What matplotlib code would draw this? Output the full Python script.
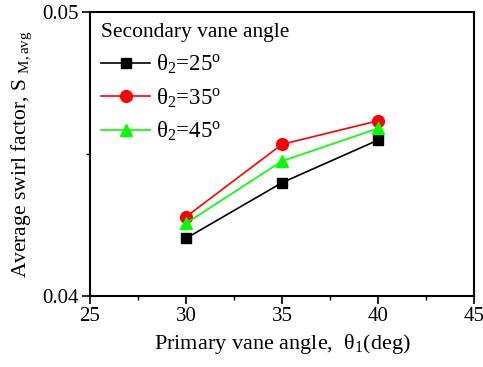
import matplotlib
matplotlib.use("Agg")
import matplotlib.pyplot as plt
from matplotlib.ticker import MultipleLocator

plt.rcParams['font.family'] = ['Liberation Serif', 'DejaVu Serif']
plt.rcParams['mathtext.fontset'] = 'custom'
plt.rcParams['mathtext.rm'] = 'Liberation Serif'
plt.rcParams['mathtext.it'] = 'Liberation Serif:italic'

primary_angle = [30, 35, 40]
swirl_25 = [0.04203, 0.04399, 0.04549]
swirl_35 = [0.04279, 0.04534, 0.04617]
swirl_45 = [0.04256, 0.04475, 0.04590]
series_labels = ['θ$_2$=25$^{\\rm o}$', 'θ$_2$=35$^{\\rm o}$', 'θ$_2$=45$^{\\rm o}$']

fig = plt.figure(figsize=(4.83, 3.67), dpi=100)
ax = fig.add_axes([90 / 483, 71 / 367, 384 / 483, 284 / 367])

ax.plot(primary_angle, swirl_25, color='black', marker='s', markersize=7.5,
        linewidth=1.2, label=series_labels[0])
ax.plot(primary_angle, swirl_35, color='red', marker='o', markersize=8.5,
        linewidth=1.2, label=series_labels[1])
ax.plot(primary_angle, swirl_45, color='#00ff00', marker='^', markersize=9,
        linewidth=1.2, label=series_labels[2])

ax.set_xlim(25, 45)
ax.set_ylim(0.04, 0.05)
ax.xaxis.set_major_locator(MultipleLocator(5))
ax.xaxis.set_minor_locator(MultipleLocator(2.5))
ax.set_yticks([0.04, 0.05])
ax.set_yticklabels(['0.04', '0.05'])
ax.yaxis.set_minor_locator(MultipleLocator(0.005))

ax.tick_params(which='major', direction='out', length=6, width=1.2,
               labelsize=15, top=False, right=False, pad=2)
ax.tick_params(which='minor', direction='out', length=3, width=1.0,
               top=False, right=False)
for s in ax.spines.values():
    s.set_linewidth(1.5)

ax.set_xlabel('Primary vane angle,  θ$_1$(deg)', fontsize=16, labelpad=4)
ax.set_ylabel('Average swirl factor, S $_{\\rm M,avg}$', fontsize=15.5, labelpad=6)

leg = ax.legend(title='Secondary vane angle', loc='upper left', frameon=False,
                fontsize=16.5, title_fontsize=15.5, handlelength=2.1,
                borderaxespad=0.3, labelspacing=0.45, handletextpad=0.3,
                borderpad=0.2)
leg._legend_box.align = 'left'

fig.savefig('out.png', dpi=100)
